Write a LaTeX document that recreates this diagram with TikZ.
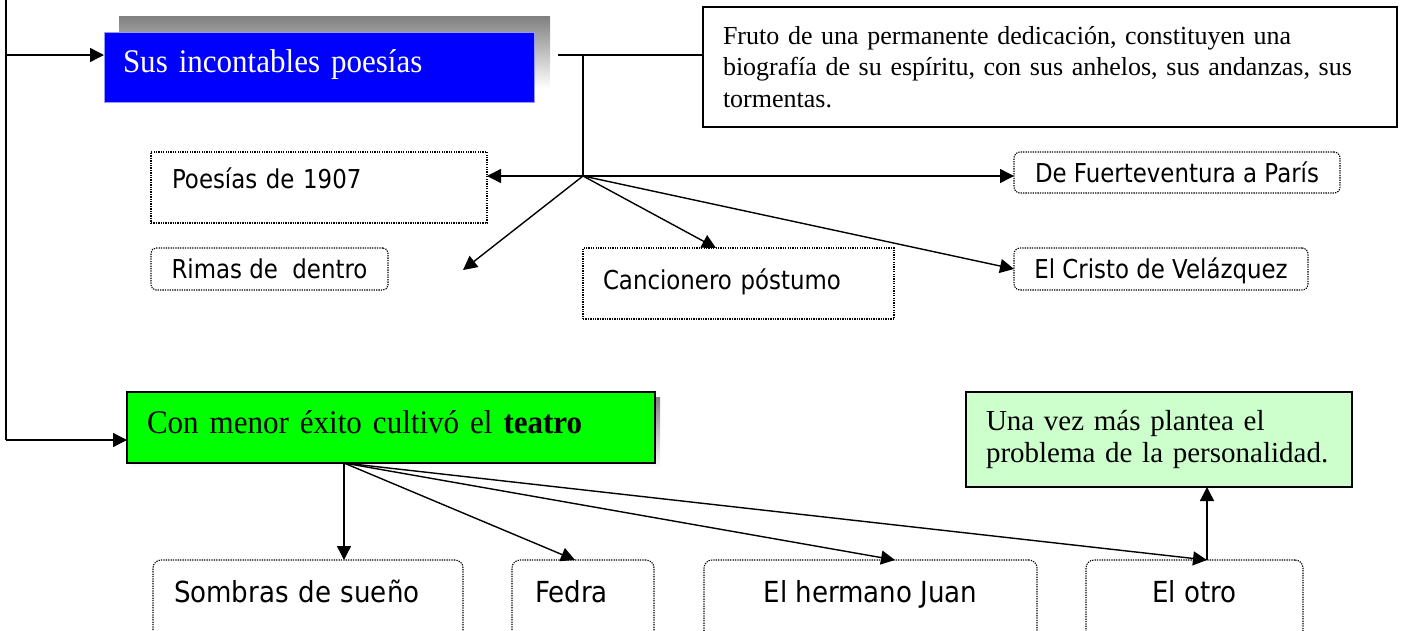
\documentclass[tikz,border=0pt]{standalone}
\usepackage{fontspec}
\setmainfont{Liberation Serif}
\newfontfamily\tah[FakeStretch=0.88]{DejaVu Sans}
\newfontfamily\tahw[FakeStretch=0.9]{DejaVu Sans}
\newfontfamily\tnr[FakeStretch=0.94]{Liberation Serif}
\usetikzlibrary{arrows.meta}
\definecolor{shade}{HTML}{808080}
\definecolor{bluebox}{HTML}{0000FF}
\definecolor{blueedge}{HTML}{9999FF}
\definecolor{greenbox}{HTML}{00FF00}
\definecolor{palegreen}{HTML}{CCFFCC}
\begin{document}
\begin{tikzpicture}[x=1pt,y=-1pt,
  every node/.style={outer sep=0pt, anchor=north west},
  conn/.style={line width=1.4pt},
  arr/.style={conn, -{Triangle[length=14pt,width=14pt]}},
  dotbox/.style={draw=black, line width=1.1pt, dash pattern=on 1.3pt off 1.1pt, inner sep=0pt,
    font=\tah\fontsize{26}{30}\selectfont, text height=19pt, text depth=0pt},
  rdotbox/.style={dotbox, rounded corners=6pt},
  lowbox/.style={rdotbox, rounded corners=8pt, font=\tahw\fontsize{29}{33}\selectfont,
    text height=21pt, minimum height=80pt},
  solidbox/.style={draw, line width=1.3pt, inner sep=0pt},
]
\useasboundingbox (0,0) rectangle (1405,630);
\clip (0,0) rectangle (1405,630);

% shadows
\fill[shade] (119,16) rectangle (550,88);
\fill[shade] (132,397) rectangle (660,468);

% heading boxes
\node[fill=bluebox, draw=blueedge, line width=1pt, inner sep=0pt, minimum width=430pt, minimum height=70pt,
  text width=392pt, inner xsep=19pt, align=left, text=white, font=\tnr\fontsize{33}{39}\selectfont,
  text height=22pt, text depth=0pt] (blue) at (104,32) {\raisebox{6pt}{Sus incontables poesías}};
\node[solidbox, fill=greenbox, minimum width=528pt, minimum height=71pt, text width=488pt, inner xsep=20pt,
  align=left, font=\tnr\fontsize{33}{39}\selectfont, text height=22pt, text depth=0pt]
  (green) at (127,392) {\raisebox{5pt}{Con menor éxito cultivó el \textbf{teatro}}};

% comment boxes
\node[solidbox, minimum width=694pt, minimum height=120pt, text width=654pt, inner xsep=20pt, align=left,
  font=\fontsize{26}{31.5}\selectfont] (fruto) at (703,7)
  {Fruto de una permanente dedicación, constituyen una\\ biografía de su espíritu, con sus anhelos, sus andanzas, sus\\ tormentas.};
\node[solidbox, fill=palegreen, minimum width=386pt, minimum height=95pt, text width=346pt, inner xsep=20pt,
  align=left, font=\fontsize{29}{32}\selectfont] (pale) at (966,392)
  {Una vez más plantea el\\ problema de la personalidad.};

% poetry works
\node[dotbox, minimum width=336pt, minimum height=71pt, text width=294pt, inner xsep=21pt, align=left]
  (p1907) at (151,152) {\raisebox{8.5pt}{Poesías de 1907}};
\node[rdotbox, rounded corners=5pt, minimum width=237pt, minimum height=42pt] (rimas) at (151,248) {Rimas de\ \ dentro};
\node[dotbox, minimum width=311pt, minimum height=71pt, text width=271pt, inner xsep=20pt, align=left]
  (canc) at (583,248) {\raisebox{3.5pt}{Cancionero póstumo}};
\node[rdotbox, minimum width=326pt, minimum height=41pt] (fuerte) at (1014,152) {De Fuerteventura a París};
\node[rdotbox, minimum width=294pt, minimum height=42pt] (cristo) at (1014,248) {El Cristo de Velázquez};

% theatre works
\node[lowbox, minimum width=310pt, text width=268pt, inner xsep=21pt, align=left] (sombras) at (153,560)
  {\raisebox{8pt}{Sombras de sueño}};
\node[lowbox, minimum width=142pt, text width=96pt, inner xsep=23pt, align=left] (fedra) at (512,560)
  {\raisebox{8pt}{Fedra}};
\node[lowbox, minimum width=333pt] (hermano) at (704,560) {\raisebox{8pt}{El hermano Juan}};
\node[lowbox, minimum width=217pt] (otro) at (1086,560) {\raisebox{8pt}{El otro}};

% main trunk
\coordinate (ltop) at (6,0);
\coordinate (lj) at (6,55);
\coordinate (lcorner) at (6,440);
\draw[conn] (ltop) -- (lcorner);
\draw[arr] (lj) -- (lj -| blue.west);
\draw[arr] (lcorner) -- (lcorner -| green.west);

% poetry branch
\coordinate (bs) at (558,55);
\coordinate (bj) at (583,55);
\coordinate (hub) at (583,176);
\coordinate (rimasend) at (463,270);
\draw[conn] (bs) -- (bs -| fruto.west);
\draw[conn] (bj) -- (hub);
\draw[arr] (hub) -- (hub -| p1907.east);
\draw[arr] (hub) -- (hub -| fuerte.west);
\draw[arr] (hub) -- (rimasend);
\draw[arr] (hub) -- ([xshift=133pt]canc.north west);
\draw[arr] (hub) -- (cristo.west);

% theatre branch
\coordinate (gs) at ([xshift=217pt]green.south west);
\coordinate (otop) at ([xshift=121pt]otro.north west);
\draw[arr] (gs) -- (gs |- sombras.north);
\draw[arr] (gs) -- ([xshift=63pt]fedra.north west);
\draw[arr] (gs) -- ([xshift=191pt]hermano.north west);
\draw[arr] (gs) -- (otop);
\draw[arr] (otop) -- (otop |- pale.south);
\end{tikzpicture}
\end{document}
